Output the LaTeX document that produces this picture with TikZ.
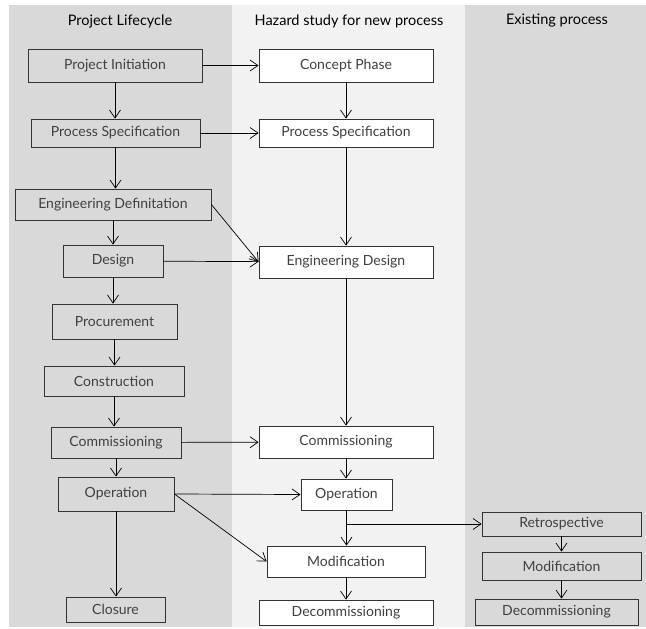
\documentclass[tikz,border=0pt]{standalone}
\usepackage{fontspec}
\setmainfont{Lato}
\usetikzlibrary{arrows.meta}
\definecolor{lanegray}{HTML}{D9D9D9}
\definecolor{lanelight}{HTML}{F2F2F2}
\definecolor{boxtext}{HTML}{404040}
\begin{document}
\begin{tikzpicture}[x=1pt, y=-1pt,
    every node/.style={font=\fontsize{14}{16}\selectfont},
    stage/.style={draw=black!80, line width=0.8pt, fill=lanegray, text=boxtext, inner sep=0, minimum height=#1},
    stage/.default=31pt,
    study/.style={stage=#1, fill=white},
    study/.default=31pt,
    head/.style={text=black, font=\fontsize{14.5}{16}\selectfont},
    >={Straight Barb[length=8pt, width=11pt]},
    flow/.style={->, line width=0.7pt}]
  \useasboundingbox (0,0) rectangle (646,629);
  \fill [lanegray] (9,5) rectangle (232,627);
  \fill [lanelight] (232,5) rectangle (465,627);
  \fill [lanegray] (465,5) rectangle (646,627);
  \node [head] (lifehead) at (120,21) {Project Lifecycle};
  \node [head] (studyhead) at (349,21) {Hazard study for new process};
  \node [head] (exhead) at (557,21) {Existing process};
  \node [stage=33pt, minimum width=174pt] (pinit) at (115,65.5) {Project Initiation};
  \node [stage=28pt, minimum width=169pt] (pspec) at (115.5,133) {Process Specification};
  \node [stage=31pt, minimum width=196pt] (edef) at (113,204.5) {Engineering Definitation};
  \node [stage=32pt, minimum width=100pt] (design) at (113,261) {Design};
  \node [stage=35pt, minimum width=125pt] (procure) at (114.5,321.5) {Procurement};
  \node [stage=30pt, minimum width=140pt] (constr) at (114,381) {Construction};
  \node [stage=31pt, minimum width=130pt] (comm) at (116,442.5) {Commissioning};
  \node [stage=34pt, minimum width=116pt] (oper) at (116,494) {Operation};
  \node [stage=25pt, minimum width=99pt] (closure) at (115.5,609.5) {Closure};
  \node [study=33pt, minimum width=174pt] (concept) at (346,65.5) {Concept Phase};
  \node [study=28pt, minimum width=174pt] (hspec) at (346,133) {Process Specification};
  \node [study=32pt, minimum width=174pt] (edesign) at (346,262) {Engineering Design};
  \node [study=32pt, minimum width=174pt] (hcomm) at (346,442) {Commissioning};
  \node [study=31pt, minimum width=91pt] (hoper) at (346.5,494.5) {Operation};
  \node [study=31pt, minimum width=158pt] (hmod) at (346,561.5) {Modification};
  \node [study=25pt, minimum width=174pt] (hdecom) at (346,612.5) {Decommissioning};
  \node [stage=24pt, minimum width=159pt] (retro) at (561.5,524) {Retrospective};
  \node [stage=28pt, minimum width=159pt] (emod) at (561.5,566) {Modification};
  \node [stage=26pt, minimum width=163pt] (edecom) at (556.5,612) {Decommissioning};
  \draw [flow] (pinit.south) -- (pinit.south |- pspec.north);
  \draw [flow] (pspec.south) -- (pspec.south |- edef.north);
  \draw [flow] (edef.south) -- (edef.south |- design.north);
  \draw [flow] (design.south) -- (design.south |- procure.north);
  \draw [flow] (procure.south) -- (procure.south |- constr.north);
  \draw [flow] (constr.south) -- (constr.south |- comm.north);
  \draw [flow] (comm.south) -- (comm.south |- oper.north);
  \draw [flow] (oper.south) -- (oper.south |- closure.north);
  \draw [flow] (pinit) -- (concept);
  \draw [flow] (pspec) -- (hspec);
  \draw [flow] (design) -- (edesign);
  \draw [flow] (edef.east) -- (edesign.west);
  \draw [flow] (comm) -- (hcomm);
  \draw [flow] (oper.east) -- (hoper.west);
  \draw [flow] (oper.east) -- (hmod.west);
  \draw [flow] (concept) -- (hspec);
  \draw [flow] (hspec) -- (edesign);
  \draw [flow] (edesign) -- (hcomm);
  \draw [flow] (hcomm) -- (hcomm.south |- hoper.north);
  \draw [flow] (hoper.south) -- (hoper.south |- hmod.north);
  \draw [flow] (hmod) -- (hdecom);
  \coordinate (branch) at (hoper.south |- retro.west);
  \draw [flow] (branch) -- (retro.west);
  \draw [flow] (retro) -- (emod);
  \draw [flow] (emod.south) -- (emod.south |- edecom.north);
\end{tikzpicture}
\end{document}
